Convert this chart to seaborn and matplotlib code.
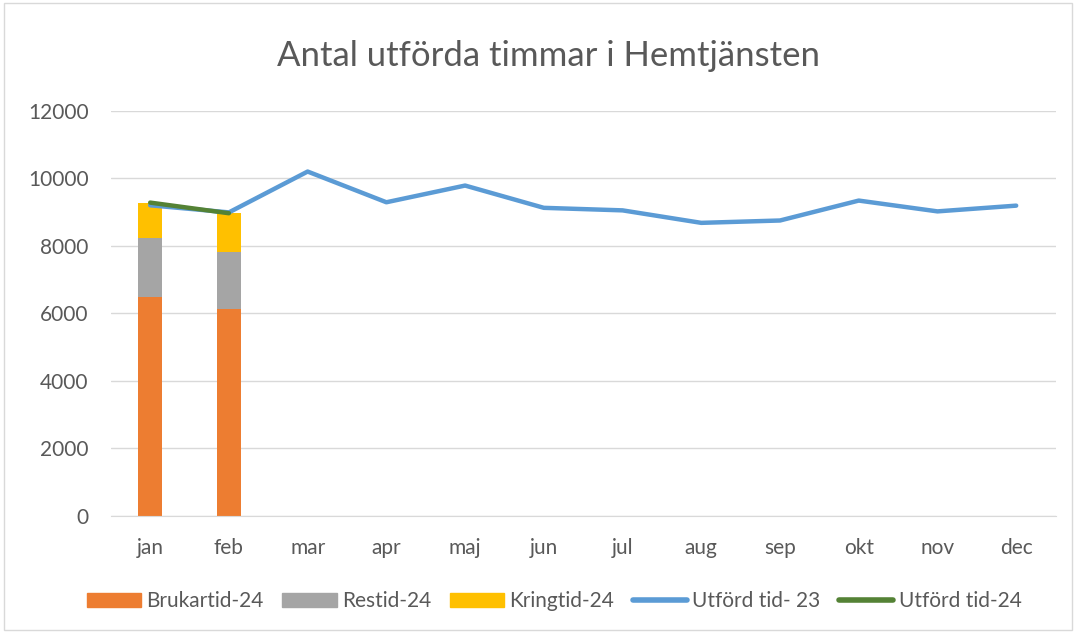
import numpy as np
import pandas as pd
import matplotlib
matplotlib.use("Agg")
import matplotlib.pyplot as plt
import seaborn as sns
from matplotlib.patches import Patch
from matplotlib.lines import Line2D

# Data
months = ["jan", "feb", "mar", "apr", "maj", "jun", "jul", "aug", "sep", "okt", "nov", "dec"]
brukartid_24 = [6480, 6140]
restid_24 = [1745, 1670]
kringtid_24 = [1055, 1155]
utford_23 = [9200, 8990, 10200, 9290, 9785, 9125, 9050, 8680, 8750, 9340, 9020, 9190]
utford_24 = [9280, 8965]

sns.set_style("white")
plt.rcParams["font.family"] = ["Lato", "DejaVu Sans"]

c_bruk = "#ED7D31"
c_res = "#A5A5A5"
c_kring = "#FFC000"
c_23 = "#5B9BD5"
c_24 = "#548235"
txt = "#595959"

n24 = len(brukartid_24)
pad = [np.nan] * (len(months) - n24)
df = pd.DataFrame({
    "month": months,
    "bruk": brukartid_24 + pad,
    "res": restid_24 + pad,
    "kring": kringtid_24 + pad,
})
df["lvl2"] = df["bruk"] + df["res"]
df["lvl3"] = df["lvl2"] + df["kring"]

fig = plt.figure(figsize=(10.76, 6.33), dpi=100)
ax = fig.add_axes([0.103, 0.185, 0.878, 0.64])

# stacked bars drawn as layered totals
for col, c in [("lvl3", c_kring), ("lvl2", c_res), ("bruk", c_bruk)]:
    sns.barplot(data=df, x="month", y=col, order=months, color=c, width=0.31,
                saturation=1, linewidth=0, ax=ax)

sns.lineplot(x=np.arange(len(months)), y=utford_23, color=c_23, linewidth=3.2,
             solid_capstyle="round", ax=ax)
sns.lineplot(x=np.arange(n24), y=utford_24, color=c_24, linewidth=3.2,
             solid_capstyle="round", ax=ax)

ax.set_ylim(0, 12000)
ax.set_yticks(range(0, 12001, 2000))
ax.set_xlim(-0.5, len(months) - 0.5)
ax.yaxis.grid(True, color="#D9D9D9", linewidth=1)
ax.set_axisbelow(True)
for s in ["top", "right", "left"]:
    ax.spines[s].set_visible(False)
ax.spines["bottom"].set_color("#D9D9D9")
ax.tick_params(axis="y", length=0, labelsize=15, colors=txt, pad=16)
ax.tick_params(axis="x", length=0, labelsize=15, colors=txt, pad=16)
ax.set_xlabel("")
ax.set_ylabel("")

fig.text(0.51, 0.912, "Antal utförda timmar i Hemtjänsten", ha="center", va="center",
         fontsize=25, color=txt)

handles = [
    Patch(color=c_bruk, label="Brukartid-24"),
    Patch(color=c_res, label="Restid-24"),
    Patch(color=c_kring, label="Kringtid-24"),
    Line2D([0], [0], color=c_23, linewidth=4, solid_capstyle="round", label="Utförd tid- 23"),
    Line2D([0], [0], color=c_24, linewidth=4, solid_capstyle="round", label="Utförd tid-24"),
]
fig.legend(handles=handles, loc="center", bbox_to_anchor=(0.515, 0.05), ncol=5,
           frameon=False, fontsize=15, labelcolor=txt, handlelength=2.6,
           handleheight=0.7, handletextpad=0.25, columnspacing=0.9)

# thin chart border
fig.patches.append(plt.Rectangle((0.004, 0.004), 0.992, 0.992, transform=fig.transFigure,
                                 fill=False, edgecolor="#D9D9D9", linewidth=1))

fig.savefig("out.png", dpi=100)
